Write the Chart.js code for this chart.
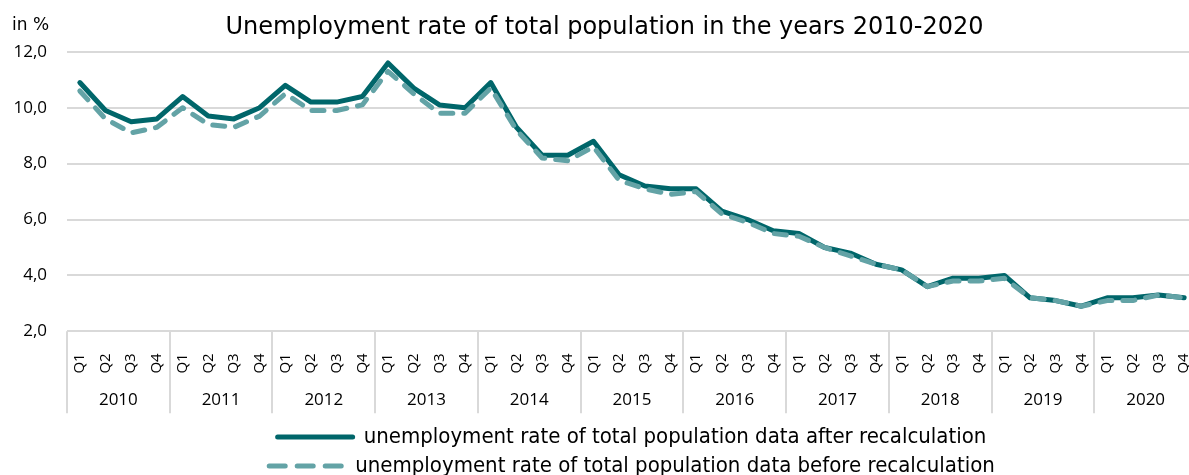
<!DOCTYPE html>
<html>
<head>
<meta charset="utf-8">
<script src="https://cdn.jsdelivr.net/npm/chart.js@4.4.1/dist/chart.umd.min.js"></script>
<style>
  html, body { margin: 0; padding: 0; background: #fff; overflow: hidden; }
  #wrap { width: 1220px; height: 475px; }
</style>
</head>
<body>
<div id="wrap"><canvas id="grafica" width="1220" height="475"></canvas></div>
<script>
const years = ['2010', '2011', '2012', '2013', '2014', '2015', '2016', '2017', '2018', '2019', '2020'];
const quarters = ['Q1', 'Q2', 'Q3', 'Q4'];
const afterRecalc = [10.9, 9.9, 9.5, 9.6, 10.4, 9.7, 9.6, 10.0, 10.8, 10.2, 10.2, 10.4,
  11.6, 10.7, 10.1, 10.0, 10.9, 9.3, 8.3, 8.3, 8.8, 7.6, 7.2, 7.1,
  7.1, 6.3, 6.0, 5.6, 5.5, 5.0, 4.8, 4.4, 4.2, 3.6, 3.9, 3.9,
  4.0, 3.2, 3.1, 2.9, 3.2, 3.2, 3.3, 3.2];
const beforeRecalc = [10.6, 9.6, 9.1, 9.3, 10.0, 9.4, 9.3, 9.7, 10.5, 9.9, 9.9, 10.1,
  11.3, 10.5, 9.8, 9.8, 10.7, 9.2, 8.2, 8.1, 8.6, 7.4, 7.1, 6.9,
  7.0, 6.2, 5.9, 5.5, 5.4, 5.0, 4.7, 4.4, 4.2, 3.6, 3.8, 3.8,
  3.9, 3.2, 3.1, 2.9, 3.1, 3.1, 3.3, 3.2];
const yTicks = [2, 4, 6, 8, 10, 12];

const quarterLabels = [];
years.forEach(function () {
    quarters.forEach(function (q) { quarterLabels.push(q); });
});

const tickFont = { family: 'Open Sans', size: 17 };

// year separators below the axis and the unit label
const yearLines = {
    id: 'yearLines',
    afterDraw(chart) {
        const ctx = chart.ctx;
        const x2 = chart.scales.x2;
        const area = chart.chartArea;
        const step = x2.width / years.length;
        ctx.save();
        ctx.strokeStyle = '#d9d9d9';
        ctx.lineWidth = 2;
        for (let i = 0; i <= years.length; i++) {
            const px = Math.round(x2.left + i * step);
            ctx.beginPath();
            ctx.moveTo(px, area.bottom);
            ctx.lineTo(px, area.bottom + 82);
            ctx.stroke();
        }
        ctx.fillStyle = '#000';
        ctx.font = '17px "DejaVu Sans"';
        ctx.textBaseline = 'middle';
        ctx.fillText('in %', 12, 26);
        ctx.restore();
    }
};

new Chart(document.getElementById('grafica').getContext('2d'), {
    type: 'line',
    data: {
        labels: quarterLabels,
        datasets: [{
            label: 'unemployment rate of total population data after recalculation',
            data: afterRecalc,
            borderColor: '#00666a',
            backgroundColor: '#00666a',
            borderWidth: 5,
            borderJoinStyle: 'round',
            borderCapStyle: 'round',
            pointRadius: 0,
            order: 1
        }, {
            label: 'unemployment rate of total population data before recalculation',
            data: beforeRecalc,
            borderColor: '#63a3a6',
            backgroundColor: '#63a3a6',
            borderWidth: 5,
            borderDash: [12, 11],
            borderCapStyle: 'round',
            borderJoinStyle: 'round',
            pointRadius: 0,
            order: 0
        }]
    },
    options: {
        responsive: false,
        animation: false,
        layout: { padding: { left: 12, right: 23, top: 0, bottom: -12 } },
        plugins: {
            title: {
                display: true,
                text: 'Unemployment rate of total population in the years 2010-2020',
                color: '#000',
                font: { family: 'DejaVu Sans', size: 24, weight: 'normal' },
                padding: { top: 13, bottom: 10 }
            },
            legend: {
                position: 'bottom',
                fullSize: false,
                labels: {
                    usePointStyle: true,
                    pointStyleWidth: 75,
                    color: '#000',
                    padding: 7,
                    font: { family: '"DejaVu Sans Condensed", "Liberation Sans Narrow", sans-serif', size: 22 },
                    generateLabels: function (chart) {
                        const items = Chart.defaults.plugins.legend.labels.generateLabels(chart);
                        items.forEach(function (it) {
                            const ds = chart.data.datasets[it.datasetIndex];
                            it.pointStyle = 'line';
                            it.strokeStyle = ds.borderColor;
                            it.lineWidth = ds.borderWidth;
                            it.lineCap = 'round';
                            it.lineDash = ds.borderDash ? [16, 12] : [];
                        });
                        return items;
                    },
                    sort: function (a, b) { return a.datasetIndex - b.datasetIndex; }
                }
            },
            tooltip: { enabled: false }
        },
        scales: {
            x: {
                type: 'category',
                offset: true,
                grid: { display: false },
                border: { display: false },
                ticks: {
                    autoSkip: false,
                    minRotation: 90,
                    maxRotation: 90,
                    padding: 14,
                    color: '#000',
                    font: { family: 'Open Sans', size: 15 }
                }
            },
            x2: {
                type: 'category',
                labels: years,
                position: 'bottom',
                offset: true,
                grid: { display: false },
                border: { display: false },
                afterFit: function (scale) { scale.height += 15; },
                ticks: { padding: -6, color: '#000', font: tickFont }
            },
            y: {
                min: yTicks[0],
                max: yTicks[yTicks.length - 1],
                border: { display: false },
                grid: { color: '#d9d9d9', lineWidth: 2, drawTicks: false },
                afterFit: function (scale) { scale.width = 55; },
                ticks: {
                    stepSize: yTicks[1] - yTicks[0],
                    padding: 20,
                    color: '#000',
                    font: tickFont,
                    callback: function (v) { return v.toFixed(1).replace('.', ','); }
                }
            }
        }
    },
    plugins: [yearLines]
});
</script>
</body>
</html>
